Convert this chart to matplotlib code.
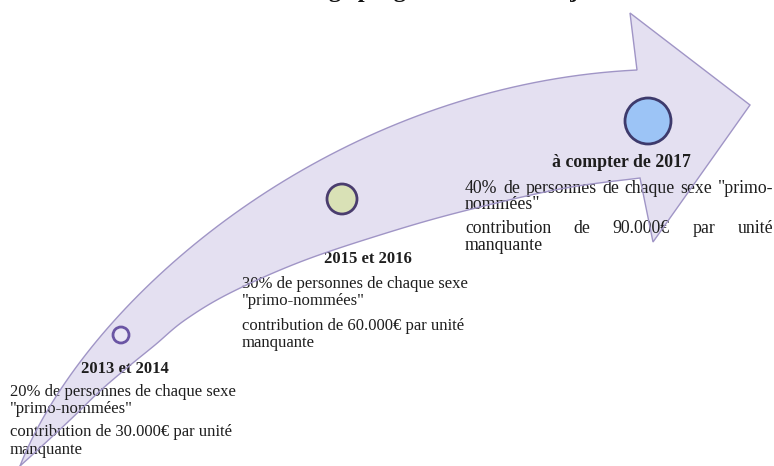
import numpy as np
import matplotlib
matplotlib.use("Agg")
import matplotlib.pyplot as plt
from matplotlib.patches import Polygon, Circle

# ---- data ----
periods = ["2013 et 2014", "2015 et 2016", "à compter de 2017"]
shares_pct = [20, 30, 40]
contributions_eur = [30000, 60000, 90000]
circle_fill = ["#e9e5f5", "#d9e1b6", "#9cc4f6"]
circle_edge = ["#6a55a4", "#4a3d6e", "#3d3a6c"]
title = "Une montée en charge progressive vers l'objectif"

# ---- layout (pixel coordinates, y downward) ----
W, H = 774, 466
circle_xy = [(121, 335), (342, 199), (648, 121)]
circle_r = [8, 15, 23]
block_left = [10, 242, 465]
block_right = [237, 472, 773]
head_cx = [125, 368, 621]
block_fs = [12, 12, 12.8]
line_y = [[368, 391, 408, 431, 449],
          [258, 283, 300, 325, 342],
          [162, 188, 204, 228, 245]]

upper_ctrl = [(20, 466), (85, 300), (330, 85), (637, 70)]
head = [(630, 13), (750, 105), (653, 242), (640, 178)]
lower = [(640, 178), (560, 189), (460, 212), (380, 235), (300, 262), (230, 293),
         (185, 320), (155, 345), (128, 367), (100, 391), (70, 420), (42, 446),
         (20, 466)]


def bezier(ctrl, n=80):
    p = np.array(ctrl, float)
    t = np.linspace(0, 1, n)[:, None]
    return ((1 - t) ** 3 * p[0] + 3 * t * (1 - t) ** 2 * p[1] +
            3 * t ** 2 * (1 - t) * p[2] + t ** 3 * p[3])


def catmull(pts, n=10):
    p = np.array(pts, float)
    p = np.vstack([p[0], p, p[-1]])
    out = []
    for i in range(1, len(p) - 2):
        p0, p1, p2, p3 = p[i - 1], p[i], p[i + 1], p[i + 2]
        for t in np.linspace(0, 1, n, endpoint=False):
            t2, t3 = t * t, t * t * t
            out.append(0.5 * ((2 * p1) + (-p0 + p2) * t +
                              (2 * p0 - 5 * p1 + 4 * p2 - p3) * t2 +
                              (-p0 + 3 * p1 - 3 * p2 + p3) * t3))
    out.append(p[-2])
    return np.array(out)


outline = np.vstack([bezier(upper_ctrl), np.array(head), catmull(lower)[1:]])

fig = plt.figure(figsize=(W / 100, H / 100), dpi=100)
ax = fig.add_axes([0, 0, 1, 1])
ax.set_xlim(0, W)
ax.set_ylim(H, 0)
ax.axis("off")

ax.add_patch(Polygon(outline, closed=True, facecolor="#e4e0f1", edgecolor="none", zorder=1))
ax.add_patch(Polygon(outline, closed=True, facecolor="none", edgecolor="#a095c6",
                     lw=1.0, zorder=4))

for (cx, cy), r, fc, ec in zip(circle_xy, circle_r, circle_fill, circle_edge):
    ax.add_patch(Circle((cx, cy), r, facecolor=fc, edgecolor=ec, lw=2.0, zorder=5))

serif = ["Liberation Serif", "DejaVu Serif"]
col = "#1e1e1e"
fig.canvas.draw()
renderer = fig.canvas.get_renderer()


def put_line(text, x_left, x_right, y, do_justify, fs):
    if not do_justify:
        ax.text(x_left, y + 5, text, fontsize=fs, family=serif, color=col,
                ha="left", va="baseline", zorder=3)
        return
    words = text.split(" ")
    arts = [ax.text(0, y + 5, w, fontsize=fs, family=serif, color=col,
                    ha="left", va="baseline", zorder=3) for w in words]
    widths = [a.get_window_extent(renderer).width for a in arts]
    gap = (x_right - x_left - sum(widths)) / (len(words) - 1)
    x = x_left
    for a, wd in zip(arts, widths):
        a.set_x(x)
        x += wd + gap


for i in range(3):
    ys = line_y[i]
    fs = block_fs[i]
    ax.text(head_cx[i], ys[0] + 5, periods[i], fontsize=fs, family=serif,
            fontweight="bold", color=col, ha="center", va="baseline", zorder=3)
    amount = f"{contributions_eur[i]:,}".replace(",", ".") + "€"
    if i == 2:
        lines = [f'{shares_pct[i]}% de personnes de chaque sexe "primo-',
                 'nommées"',
                 f"contribution de {amount} par unité",
                 "manquante"]
        just = [True, False, True, False]
    else:
        lines = [f"{shares_pct[i]}% de personnes de chaque sexe",
                 '"primo-nommées"',
                 f"contribution de {amount} par unité",
                 "manquante"]
        just = [False] * 4
    for ln, y, j in zip(lines, ys[1:], just):
        put_line(ln, block_left[i], block_right[i], y, j, fs)

fig.text(372 / W, 1 + 2.5 / H, title, fontsize=17.5, family=serif,
         fontweight="bold", color="#111111", ha="center", va="baseline")

fig.savefig("out.png", dpi=100, facecolor="white")
